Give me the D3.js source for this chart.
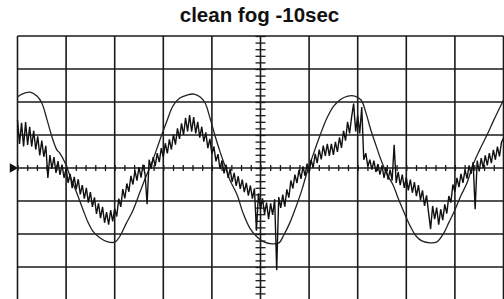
<!DOCTYPE html>
<html>
<head>
<meta charset="utf-8">
<script src="https://cdn.jsdelivr.net/npm/d3@7"></script>
<style>
  body { margin: 0; background: #fff; }
  svg { display: block; }
</style>
</head>
<body>
<div id="scope"></div>
<script>
const width = 504, height = 299;
const margin = ({top: 36, right: 0.5, bottom: -1, left: 17.5});

const title = "clean fog -10sec";

// screen is 10 x 8 divisions
const xDivs = d3.range(0, 11);
const yDivs = d3.range(-4, 5);

// smooth trace (time in div, level in div)
const smoothT = [0.00, 0.09, 0.26, 0.40, 0.50, 0.61, 0.71, 0.81, 0.87, 0.98,
  1.08, 1.22, 1.35, 1.45, 1.55, 1.70, 1.86, 2.01, 2.11, 2.23,
  2.38, 2.52, 2.64, 2.77, 2.93, 3.08, 3.20, 3.34, 3.49, 3.63,
  3.76, 3.86, 3.96, 4.06, 4.17, 4.27, 4.37, 4.52, 4.64, 4.78,
  4.93, 5.07, 5.24, 5.38, 5.48, 5.61, 5.73, 5.85, 5.96, 6.08,
  6.22, 6.37, 6.51, 6.66, 6.80, 6.94, 7.07, 7.17, 7.27, 7.38,
  7.48, 7.60, 7.73, 7.83, 7.95, 8.08, 8.20, 8.32, 8.49, 8.63,
  8.76, 8.88, 9.00, 9.12, 9.25, 9.37, 9.51, 9.66, 9.80, 9.93, 10.00];
const smoothV = [2.15, 2.24, 2.30, 2.18, 1.97, 1.45, 0.94, 0.55, 0.45, 0.15,
  -0.24, -0.76, -1.27, -1.64, -1.91, -2.12, -2.24, -2.24, -2.06, -1.70,
  -1.27, -0.73, -0.27, 0.18, 0.85, 1.45, 1.88, 2.12, 2.21, 2.24,
  2.15, 1.97, 1.52, 1.00, 0.48, 0.06, -0.36, -0.82, -1.36, -1.82,
  -2.09, -2.24, -2.30, -2.27, -2.03, -1.64, -1.18, -0.67, -0.12, 0.39,
  0.97, 1.52, 1.88, 2.09, 2.18, 2.18, 2.06, 1.67, 1.15, 0.67,
  0.24, -0.18, -0.52, -0.91, -1.33, -1.76, -2.06, -2.21, -2.27, -2.24,
  -2.00, -1.64, -1.27, -0.85, -0.45, 0.09, 0.55, 1.00, 1.45, 1.85, 2.06];

// noisy trace, one sample every 1/24 div
const noisyV = [1.45, 0.73, 1.37, 0.65, 1.39, 0.70, 1.25, 0.65, 1.13, 0.56,
  0.96, 0.38, 0.83, 0.34, 0.67, -0.30, 0.39, -0.02, 0.33, -0.15,
  0.21, -0.21, 0.10, -0.30, -0.01, -0.45, -0.18, -0.61, -0.27, -0.65,
  -0.34, -0.80, -0.52, -0.93, -0.60, -1.05, -0.73, -1.18, -0.89, -1.39,
  -1.07, -1.52, -1.18, -1.66, -1.34, -1.72, -1.28, -1.62, -1.23, -1.47,
  -0.93, -1.18, -0.64, -0.92, -0.47, -0.72, -0.24, -0.50, -0.07, -0.38,
  0.03, -0.29, 0.10, -0.19, -1.10, 0.25, -0.02, 0.33, 0.06, 0.45,
  0.18, 0.60, 0.33, 0.75, 0.44, 0.87, 0.56, 1.02, 0.71, 1.20,
  0.88, 1.35, 1.00, 1.52, 1.11, 1.60, 1.10, 1.54, 1.05, 1.40,
  0.92, 1.25, 0.80, 1.08, 0.60, 0.88, 0.43, 0.65, 0.20, 0.42,
  -0.03, 0.23, -0.16, 0.10, -0.30, -0.03, -0.42, -0.15, -0.54, -0.25,
  -0.63, -0.35, -0.73, -0.45, -0.84, -0.53, -0.93, -0.62, -1.90, -0.77,
  -1.25, -0.92, -1.40, -1.05, -1.55, -1.07, -1.42, -0.95, -3.10, -0.88,
  -1.21, -0.81, -1.17, -0.65, -0.90, -0.38, -0.62, -0.20, -0.46, -0.06,
  -0.33, 0.05, -0.24, 0.13, -0.15, 0.25, 0.00, 0.43, 0.15, 0.56,
  0.26, 0.68, 0.37, 0.73, 0.37, 0.73, 0.40, 0.79, 0.49, 0.93,
  0.61, 1.13, 0.83, 1.40, 1.05, 1.55, 1.95, 1.11, 1.59, 1.05,
  1.85, 0.25, 0.45, 0.05, 0.25, -0.05, 0.22, -0.12, 0.12, -0.20,
  0.08, -0.30, 0.02, -0.35, -0.05, -0.38, 0.70, -0.45, -0.12, -0.52,
  -0.20, -0.60, -0.28, -0.68, -0.35, -0.75, -0.43, -0.85, -0.52, -0.97,
  -0.68, -1.15, -0.83, -1.35, -1.85, -1.15, -1.55, -1.20, -1.72, -1.25,
  -1.58, -1.10, -1.38, -0.85, -1.05, -0.50, -0.72, -0.30, -0.58, -0.18,
  -0.45, -0.05, -0.32, 0.08, -0.18, 0.18, -1.25, 0.22, -0.10, 0.30,
  0.00, 0.38, 0.08, 0.45, 0.15, 0.55, 0.25, 0.65, 0.35, 0.78,
  0.90];
const noisyT = noisyV.map((v, i) => i / 24);

const svg = d3.select("#scope").append("svg")
  .attr("width", width)
  .attr("height", height);

const x = d3.scaleLinear()
  .domain([0, 10])
  .range([margin.left, width - margin.right]);
const y = d3.scaleLinear()
  .domain([-4, 4])
  .range([height - margin.bottom, margin.top]);

svg.append("text")
  .attr("x", x(5) - 1)
  .attr("y", 22)
  .attr("text-anchor", "middle")
  .style("font-family", "'Liberation Sans', Arial, sans-serif")
  .style("font-weight", "bold")
  .style("font-size", "20.5px")
  .style("fill", "#111")
  .text(title);

// graticule
const grid = svg.append("g")
  .attr("stroke", "#1a1a1a")
  .attr("stroke-width", 1.6);
grid.selectAll("line.v")
  .data(xDivs)
  .enter().append("line")
  .attr("class", "v")
  .attr("x1", d => x(d)).attr("x2", d => x(d))
  .attr("y1", y(4)).attr("y2", y(-4));
grid.selectAll("line.h")
  .data(yDivs)
  .enter().append("line")
  .attr("class", "h")
  .attr("x1", x(0)).attr("x2", x(10))
  .attr("y1", d => y(d)).attr("y2", d => y(d));

// minor ticks on the centre axes
svg.append("g")
  .attr("transform", `translate(0, ${y(0)})`)
  .call(d3.axisBottom(x).ticks(50).tickSizeInner(3).tickSizeOuter(0).tickFormat(""))
  .call(g => g.select(".domain").remove())
  .call(g => g.selectAll("line").attr("y1", -3).attr("stroke", "#1a1a1a").attr("stroke-width", 1.3));
svg.append("g")
  .attr("transform", `translate(${x(5)}, 0)`)
  .call(d3.axisLeft(y).ticks(40).tickSizeInner(5).tickSizeOuter(0).tickFormat(""))
  .call(g => g.select(".domain").remove())
  .call(g => g.selectAll("line").attr("x2", 5).attr("x1", -5).attr("stroke", "#1a1a1a").attr("stroke-width", 1.3));

// ground marker
svg.append("path")
  .attr("d", d3.symbol(d3.symbolTriangle, 40))
  .attr("transform", `translate(${x(0) - 5}, ${y(0)}) rotate(90)`)
  .attr("fill", "#111");

const line = d3.line()
  .x(d => x(d[0]))
  .y(d => y(d[1]));

svg.append("path")
  .datum(d3.zip(smoothT, smoothV))
  .attr("d", line.curve(d3.curveCatmullRom))
  .attr("fill", "none")
  .attr("stroke", "#222")
  .attr("stroke-width", 1.3);

svg.append("path")
  .datum(d3.zip(noisyT, noisyV))
  .attr("d", line.curve(d3.curveLinear))
  .attr("fill", "none")
  .attr("stroke", "#111")
  .attr("stroke-width", 1.4);
</script>
</body>
</html>
